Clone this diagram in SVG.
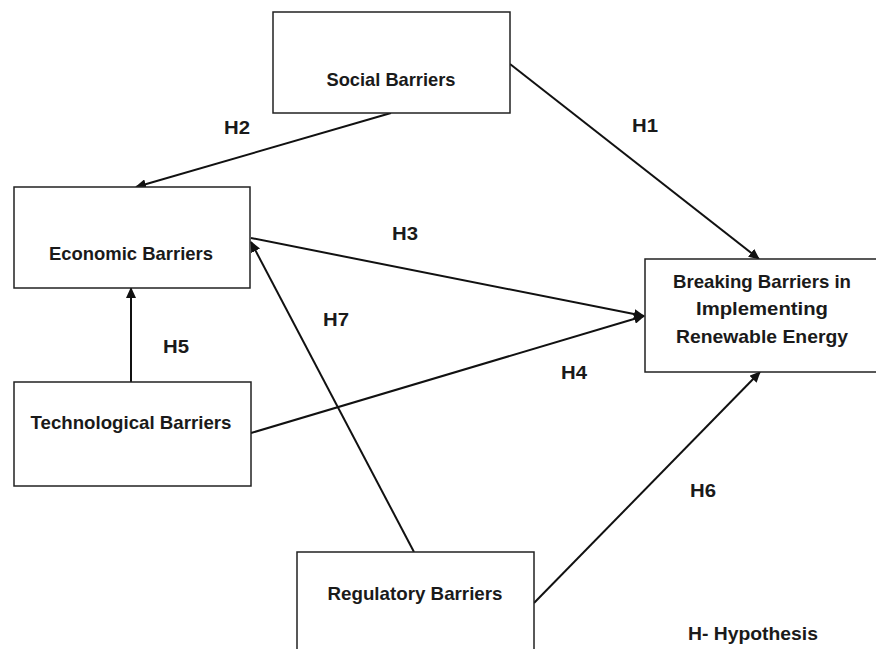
<svg xmlns="http://www.w3.org/2000/svg" width="876" height="649" viewBox="0 0 876 649">
<style>
.box{fill:#fff;stroke:#222;stroke-width:1.5}
.t{font-family:"Liberation Sans Narrow","Liberation Sans",Arial,sans-serif;font-weight:bold;font-size:19px;fill:#1a1a1a;text-anchor:middle}
.lbl{font-family:"Liberation Sans Narrow","Liberation Sans",Arial,sans-serif;font-weight:bold;font-size:18px;fill:#1a1a1a;text-anchor:middle}
.c{stroke:#111;stroke-width:2;fill:none;marker-end:url(#ah)}
</style>
<defs>
<marker id="ah" markerWidth="12" markerHeight="10" refX="10" refY="5" orient="auto" markerUnits="userSpaceOnUse">
<path d="M0,0 L11,5 L0,10 z" fill="#111"/>
</marker>
</defs>
<rect width="876" height="649" fill="#fff"/>
<g id="connectors">
<line class="c" x1="391" y1="113" x2="136" y2="187"/>
<line class="c" x1="510" y1="64" x2="759" y2="259"/>
<line class="c" x1="251" y1="238" x2="644" y2="316"/>
<line class="c" x1="251" y1="433" x2="644" y2="316"/>
<line class="c" x1="414" y1="552" x2="251" y2="242"/>
<line class="c" x1="131" y1="382" x2="131" y2="288"/>
<line class="c" x1="534" y1="603" x2="760" y2="372"/>
<text class="lbl" x="237" y="134" textLength="26" lengthAdjust="spacingAndGlyphs">H2</text>
<text class="lbl" x="645" y="132" textLength="26" lengthAdjust="spacingAndGlyphs">H1</text>
<text class="lbl" x="405" y="240" textLength="26" lengthAdjust="spacingAndGlyphs">H3</text>
<text class="lbl" x="336" y="326" textLength="26" lengthAdjust="spacingAndGlyphs">H7</text>
<text class="lbl" x="176" y="353" textLength="26" lengthAdjust="spacingAndGlyphs">H5</text>
<text class="lbl" x="574" y="379" textLength="26" lengthAdjust="spacingAndGlyphs">H4</text>
<text class="lbl" x="703" y="497" textLength="26" lengthAdjust="spacingAndGlyphs">H6</text>
</g>
<g id="social">
<rect class="box" x="273" y="12" width="237" height="101"/>
<text class="t" x="391" y="86" textLength="129" lengthAdjust="spacingAndGlyphs">Social Barriers</text>
</g>
<g id="economic">
<rect class="box" x="14" y="187" width="236" height="101"/>
<text class="t" x="131" y="260" textLength="164" lengthAdjust="spacingAndGlyphs">Economic Barriers</text>
</g>
<g id="technological">
<rect class="box" x="14" y="382" width="237" height="104"/>
<text class="t" x="131" y="429" textLength="201" lengthAdjust="spacingAndGlyphs">Technological Barriers</text>
</g>
<g id="regulatory">
<rect class="box" x="297" y="552" width="237" height="110"/>
<text class="t" x="415" y="600" textLength="175" lengthAdjust="spacingAndGlyphs">Regulatory Barriers</text>
</g>
<g id="target">
<rect class="box" x="645" y="259" width="240" height="113"/>
<text class="t" x="762" y="288" textLength="178" lengthAdjust="spacingAndGlyphs">Breaking Barriers in</text>
<text class="t" x="762" y="315" textLength="132" lengthAdjust="spacingAndGlyphs">Implementing</text>
<text class="t" x="762" y="343" textLength="172" lengthAdjust="spacingAndGlyphs">Renewable Energy</text>
</g>
<g id="legend">
<text class="lbl" x="753" y="640" textLength="130" lengthAdjust="spacingAndGlyphs">H- Hypothesis</text>
</g>
</svg>
